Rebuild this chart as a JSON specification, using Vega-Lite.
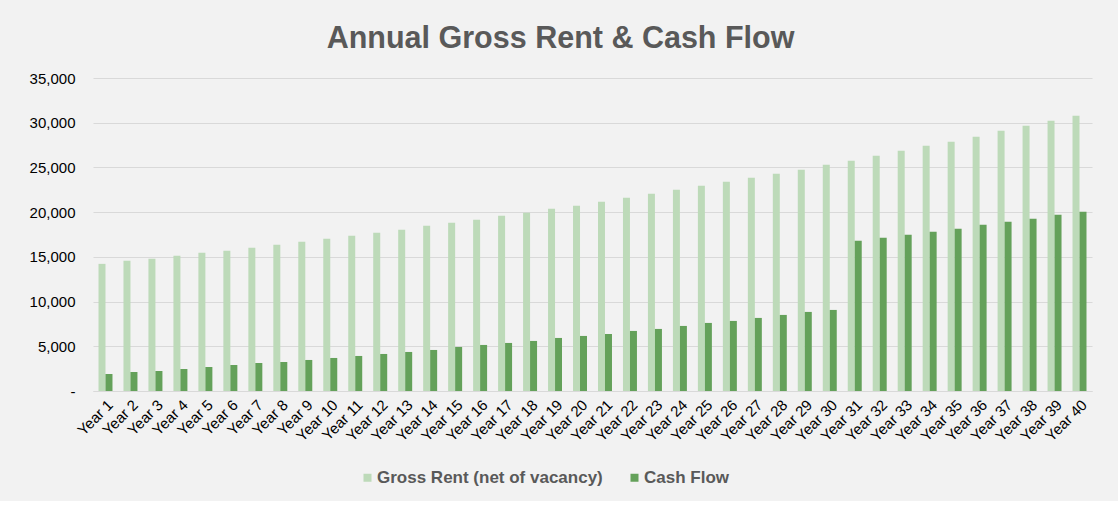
{
  "$schema": "https://vega.github.io/schema/vega-lite/v6.json",
  "width": 999,
  "height": 313,
  "padding": {"left": 29, "top": 23, "right": 26, "bottom": 15},
  "background": "#f2f2f2",
  "title": {
    "text": "Annual Gross Rent & Cash Flow",
    "font": "Liberation Sans",
    "fontSize": 30.5,
    "fontWeight": "bold",
    "color": "#595959",
    "anchor": "middle",
    "frame": "bounds",
    "offset": 17
  },
  "config": {"view": {"stroke": null}, "font": "Liberation Sans"},
  "data": {
    "values": [
      {"year": "Year 1", "series": "Gross Rent (net of vacancy)", "value": 14216},
      {"year": "Year 1", "series": "Cash Flow", "value": 1903},
      {"year": "Year 2", "series": "Gross Rent (net of vacancy)", "value": 14551},
      {"year": "Year 2", "series": "Cash Flow", "value": 2127},
      {"year": "Year 3", "series": "Gross Rent (net of vacancy)", "value": 14775},
      {"year": "Year 3", "series": "Cash Flow", "value": 2239},
      {"year": "Year 4", "series": "Gross Rent (net of vacancy)", "value": 15111},
      {"year": "Year 4", "series": "Cash Flow", "value": 2462},
      {"year": "Year 5", "series": "Gross Rent (net of vacancy)", "value": 15447},
      {"year": "Year 5", "series": "Cash Flow", "value": 2686},
      {"year": "Year 6", "series": "Gross Rent (net of vacancy)", "value": 15670},
      {"year": "Year 6", "series": "Cash Flow", "value": 2910},
      {"year": "Year 7", "series": "Gross Rent (net of vacancy)", "value": 16006},
      {"year": "Year 7", "series": "Cash Flow", "value": 3134},
      {"year": "Year 8", "series": "Gross Rent (net of vacancy)", "value": 16342},
      {"year": "Year 8", "series": "Cash Flow", "value": 3246},
      {"year": "Year 9", "series": "Gross Rent (net of vacancy)", "value": 16678},
      {"year": "Year 9", "series": "Cash Flow", "value": 3470},
      {"year": "Year 10", "series": "Gross Rent (net of vacancy)", "value": 17013},
      {"year": "Year 10", "series": "Cash Flow", "value": 3694},
      {"year": "Year 11", "series": "Gross Rent (net of vacancy)", "value": 17349},
      {"year": "Year 11", "series": "Cash Flow", "value": 3918},
      {"year": "Year 12", "series": "Gross Rent (net of vacancy)", "value": 17685},
      {"year": "Year 12", "series": "Cash Flow", "value": 4141},
      {"year": "Year 13", "series": "Gross Rent (net of vacancy)", "value": 18021},
      {"year": "Year 13", "series": "Cash Flow", "value": 4365},
      {"year": "Year 14", "series": "Gross Rent (net of vacancy)", "value": 18468},
      {"year": "Year 14", "series": "Cash Flow", "value": 4589},
      {"year": "Year 15", "series": "Gross Rent (net of vacancy)", "value": 18804},
      {"year": "Year 15", "series": "Cash Flow", "value": 4925},
      {"year": "Year 16", "series": "Gross Rent (net of vacancy)", "value": 19140},
      {"year": "Year 16", "series": "Cash Flow", "value": 5149},
      {"year": "Year 17", "series": "Gross Rent (net of vacancy)", "value": 19588},
      {"year": "Year 17", "series": "Cash Flow", "value": 5373},
      {"year": "Year 18", "series": "Gross Rent (net of vacancy)", "value": 19924},
      {"year": "Year 18", "series": "Cash Flow", "value": 5597},
      {"year": "Year 19", "series": "Gross Rent (net of vacancy)", "value": 20371},
      {"year": "Year 19", "series": "Cash Flow", "value": 5932},
      {"year": "Year 20", "series": "Gross Rent (net of vacancy)", "value": 20707},
      {"year": "Year 20", "series": "Cash Flow", "value": 6156},
      {"year": "Year 21", "series": "Gross Rent (net of vacancy)", "value": 21155},
      {"year": "Year 21", "series": "Cash Flow", "value": 6380},
      {"year": "Year 22", "series": "Gross Rent (net of vacancy)", "value": 21602},
      {"year": "Year 22", "series": "Cash Flow", "value": 6716},
      {"year": "Year 23", "series": "Gross Rent (net of vacancy)", "value": 22050},
      {"year": "Year 23", "series": "Cash Flow", "value": 6940},
      {"year": "Year 24", "series": "Gross Rent (net of vacancy)", "value": 22498},
      {"year": "Year 24", "series": "Cash Flow", "value": 7275},
      {"year": "Year 25", "series": "Gross Rent (net of vacancy)", "value": 22946},
      {"year": "Year 25", "series": "Cash Flow", "value": 7611},
      {"year": "Year 26", "series": "Gross Rent (net of vacancy)", "value": 23393},
      {"year": "Year 26", "series": "Cash Flow", "value": 7835},
      {"year": "Year 27", "series": "Gross Rent (net of vacancy)", "value": 23841},
      {"year": "Year 27", "series": "Cash Flow", "value": 8171},
      {"year": "Year 28", "series": "Gross Rent (net of vacancy)", "value": 24289},
      {"year": "Year 28", "series": "Cash Flow", "value": 8507},
      {"year": "Year 29", "series": "Gross Rent (net of vacancy)", "value": 24737},
      {"year": "Year 29", "series": "Cash Flow", "value": 8842},
      {"year": "Year 30", "series": "Gross Rent (net of vacancy)", "value": 25296},
      {"year": "Year 30", "series": "Cash Flow", "value": 9066},
      {"year": "Year 31", "series": "Gross Rent (net of vacancy)", "value": 25744},
      {"year": "Year 31", "series": "Cash Flow", "value": 16790},
      {"year": "Year 32", "series": "Gross Rent (net of vacancy)", "value": 26304},
      {"year": "Year 32", "series": "Cash Flow", "value": 17125},
      {"year": "Year 33", "series": "Gross Rent (net of vacancy)", "value": 26863},
      {"year": "Year 33", "series": "Cash Flow", "value": 17461},
      {"year": "Year 34", "series": "Gross Rent (net of vacancy)", "value": 27423},
      {"year": "Year 34", "series": "Cash Flow", "value": 17797},
      {"year": "Year 35", "series": "Gross Rent (net of vacancy)", "value": 27871},
      {"year": "Year 35", "series": "Cash Flow", "value": 18133},
      {"year": "Year 36", "series": "Gross Rent (net of vacancy)", "value": 28430},
      {"year": "Year 36", "series": "Cash Flow", "value": 18580},
      {"year": "Year 37", "series": "Gross Rent (net of vacancy)", "value": 29102},
      {"year": "Year 37", "series": "Cash Flow", "value": 18916},
      {"year": "Year 38", "series": "Gross Rent (net of vacancy)", "value": 29661},
      {"year": "Year 38", "series": "Cash Flow", "value": 19252},
      {"year": "Year 39", "series": "Gross Rent (net of vacancy)", "value": 30221},
      {"year": "Year 39", "series": "Cash Flow", "value": 19700},
      {"year": "Year 40", "series": "Gross Rent (net of vacancy)", "value": 30781},
      {"year": "Year 40", "series": "Cash Flow", "value": 20035}
    ]
  },
  "mark": {"type": "bar"},
  "encoding": {
    "x": {
      "field": "year",
      "type": "nominal",
      "sort": null,
      "scale": {"paddingInner": 0.44, "paddingOuter": 0.22},
      "axis": {
        "title": null,
        "labelAngle": -45,
        "labelFontSize": 15,
        "labelColor": "#000000",
        "ticks": false,
        "domainColor": "#d9d9d9",
        "labelPadding": 6
      }
    },
    "xOffset": {
      "field": "series",
      "sort": ["Gross Rent (net of vacancy)", "Cash Flow"]
    },
    "y": {
      "field": "value",
      "type": "quantitative",
      "scale": {"domain": [0, 35000]},
      "axis": {
        "title": null,
        "values": [0, 5000, 10000, 15000, 20000, 25000, 30000, 35000],
        "labelExpr": "datum.value === 0 ? '-' : format(datum.value, ',')",
        "domain": false,
        "ticks": false,
        "gridColor": "#d9d9d9",
        "labelPadding": 18,
        "labelFontSize": 15,
        "labelColor": "#000000"
      }
    },
    "color": {
      "field": "series",
      "type": "nominal",
      "scale": {
        "domain": ["Gross Rent (net of vacancy)", "Cash Flow"],
        "range": ["#bddab9", "#64a15a"]
      },
      "legend": {
        "title": null,
        "orient": "none",
        "direction": "horizontal",
        "legendX": 266,
        "legendY": 391,
        "symbolType": "square",
        "symbolSize": 64,
        "symbolStrokeWidth": 0,
        "labelFontSize": 17,
        "labelFontWeight": "bold",
        "labelColor": "#595959",
        "labelOffset": 1,
        "labelLimit": 400,
        "columnPadding": 23
      }
    }
  }
}
